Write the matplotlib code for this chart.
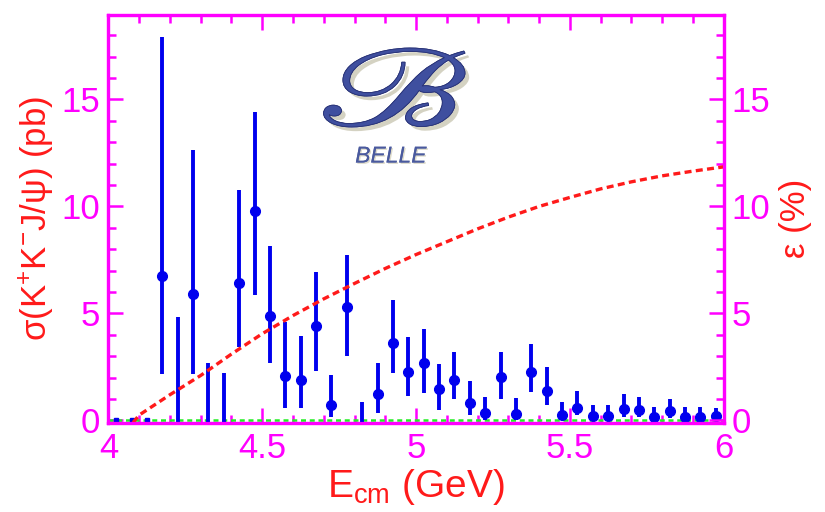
import matplotlib
matplotlib.use("Agg")
import matplotlib.pyplot as plt
import matplotlib.patheffects as pe
import numpy as np
from matplotlib.ticker import MultipleLocator
from matplotlib.textpath import TextPath
from matplotlib.patches import PathPatch
from matplotlib.font_manager import FontProperties
from matplotlib.transforms import Affine2D, IdentityTransform

# ---- data ----
e_cm = [4.025, 4.075, 4.125, 4.175, 4.225, 4.275, 4.325, 4.375, 4.425, 4.475,
        4.525, 4.575, 4.625, 4.675, 4.725, 4.775, 4.825, 4.875, 4.925, 4.975,
        5.025, 5.075, 5.125, 5.175, 5.225, 5.275, 5.325, 5.375, 5.425, 5.475,
        5.525, 5.575, 5.625, 5.675, 5.725, 5.775, 5.825, 5.875, 5.925, 5.975]
sigma = [0.0, 0.0, 0.0, 6.74, -1.0, 5.90, -1.0, -1.0, 6.43, 9.80,
         4.87, 2.08, 1.88, 4.42, 0.71, 5.28, -0.5, 1.23, 3.63, 2.24,
         2.66, 1.46, 1.88, 0.82, 0.33, 2.04, 0.28, 2.24, 1.38, 0.25,
         0.58, 0.20, 0.22, 0.51, 0.48, 0.14, 0.45, 0.14, 0.14, 0.22]
sigma_hi = [0.0, 0.0, 0.0, 17.9, 4.81, 12.66, 2.69, 2.20, 10.79, 14.42,
            8.16, 4.61, 3.95, 6.92, 2.12, 7.72, 0.87, 2.69, 5.62, 3.88,
            4.25, 2.63, 3.21, 1.84, 1.10, 3.21, 1.03, 3.57, 2.48, 0.87,
            1.38, 0.71, 0.71, 1.23, 1.07, 0.64, 1.00, 0.64, 0.64, 0.59]
sigma_lo = [0.0, 0.0, 0.0, 2.15, -6.0, 2.15, -5.0, -5.0, 3.44, 5.86,
            2.66, 0.56, 0.56, 2.32, 0.14, 3.00, -2.0, 0.36, 2.22, 1.14,
            1.29, 0.48, 1.00, 0.25, 0.00, 1.00, 0.00, 1.34, 0.71, 0.00,
            0.25, 0.00, 0.00, 0.14, 0.14, 0.00, 0.10, 0.00, 0.00, 0.00]

eff_x = [4.08, 4.1, 4.2, 4.3, 4.4, 4.5, 4.6, 4.7, 4.8, 4.9, 5.0,
         5.1, 5.2, 5.3, 5.4, 5.5, 5.6, 5.7, 5.8, 5.9, 6.0]
eff_y = [-0.1, 0.25, 1.2, 2.1, 3.1, 4.05, 4.9, 5.68, 6.4, 7.1, 7.75,
         8.35, 8.95, 9.5, 10.0, 10.42, 10.82, 11.15, 11.43, 11.65, 11.85]

MAG = '#ff00ff'
RED = '#ff1a1a'
BLUE = '#0000ee'

plt.rcParams['font.family'] = ['Liberation Sans', 'DejaVu Sans']

fig = plt.figure(figsize=(8.25, 5.12), dpi=100)
ax = fig.add_axes([0.1315, 0.1748, 0.7455, 0.7959])
ax2 = ax.twinx()

x = np.array(e_cm)
y = np.array(sigma)
hi = np.array(sigma_hi)
lo = np.array(sigma_lo)

ax.axhline(0.04, color='#22ee22', lw=1.8, ls=(0, (2, 1.5)), zorder=2.6)

main = hi > 0
ax.errorbar(x[main], y[main], yerr=[y[main] - lo[main], hi[main] - y[main]],
            fmt='o', color=BLUE, ms=7, elinewidth=2.8, capsize=0, zorder=3)
ax.plot(x[~main], y[~main], 's', color=BLUE, ms=2.2, zorder=3)

ax2.plot(eff_x, eff_y, color=RED, lw=2.4, ls=(0, (2.1, 1.3)), zorder=2)

for a in (ax, ax2):
    a.set_xlim(4, 6)
    a.set_ylim(-0.1, 18.95)
    a.yaxis.set_major_locator(MultipleLocator(5))
    a.yaxis.set_minor_locator(MultipleLocator(1))
    for s in a.spines.values():
        s.set_color(MAG)
        s.set_linewidth(2.3)

ax.xaxis.set_major_locator(MultipleLocator(0.5))
ax.xaxis.set_minor_locator(MultipleLocator(0.1))
ax.set_xticks([4, 4.5, 5, 5.5, 6])
ax.set_xticklabels(['4', '4.5', '5', '5.5', '6'])

ax.tick_params(axis='both', which='both', direction='in', color=MAG,
               labelcolor=MAG, labelsize=25, width=1.8)
ax.tick_params(axis='x', which='both', top=True)
ax.tick_params(axis='both', which='major', length=11)
ax.tick_params(axis='both', which='minor', length=5.5)
ax.tick_params(axis='x', pad=7)
ax.tick_params(axis='y', pad=6)
ax2.tick_params(axis='y', which='both', direction='in', color=MAG,
                labelcolor=MAG, labelsize=25, width=1.8, pad=6)
ax2.tick_params(axis='y', which='major', length=11)
ax2.tick_params(axis='y', which='minor', length=5.5)

ax.set_xlabel(r'E$_{\mathregular{cm}}$ (GeV)', color=RED, fontsize=28, labelpad=1)
ax.set_ylabel(r'$\mathregular{\sigma(K^{+}K^{-}J/\psi)}$ (pb)', color=RED, fontsize=25, labelpad=4)
ax2.set_ylabel('ε (%)', color=RED, fontsize=25, labelpad=6)

# BELLE logo: script B stretched into the logo box (figure pixels)
tp = TextPath((0, 0), r'$\mathscr{B}$', size=100,
              prop=FontProperties(family='DejaVu Sans', math_fontfamily='stix'))
v = tp.vertices
x0, x1 = v[:, 0].min(), v[:, 0].max()
y0, y1 = v[:, 1].min(), v[:, 1].max()
box_l, box_r, box_b, box_t = 318, 465, 512 - 127, 512 - 48
tr = (Affine2D().translate(-x0, -y0)
      .scale((box_r - box_l) / (x1 - x0), (box_t - box_b) / (y1 - y0))
      .translate(box_l, box_b))
logo = PathPatch(tr.transform_path(tp), transform=IdentityTransform(),
                 facecolor='#3f4f9f', edgecolor='#2a3478', lw=0.6, zorder=5,
                 path_effects=[pe.withSimplePatchShadow(offset=(3, -3), shadow_rgbFace='#b8b49a', alpha=0.6),
                               pe.Normal()])
fig.add_artist(logo)

ax.text(0.459, 0.654, 'BELLE', transform=ax.transAxes, ha='center', va='center',
        fontsize=16.5, style='italic', color='#4a5a9e',
        path_effects=[pe.withSimplePatchShadow(offset=(1, -1), shadow_rgbFace='#c8c4a8', alpha=0.6), pe.Normal()],
        zorder=4)

fig.savefig('out.png', dpi=100)
